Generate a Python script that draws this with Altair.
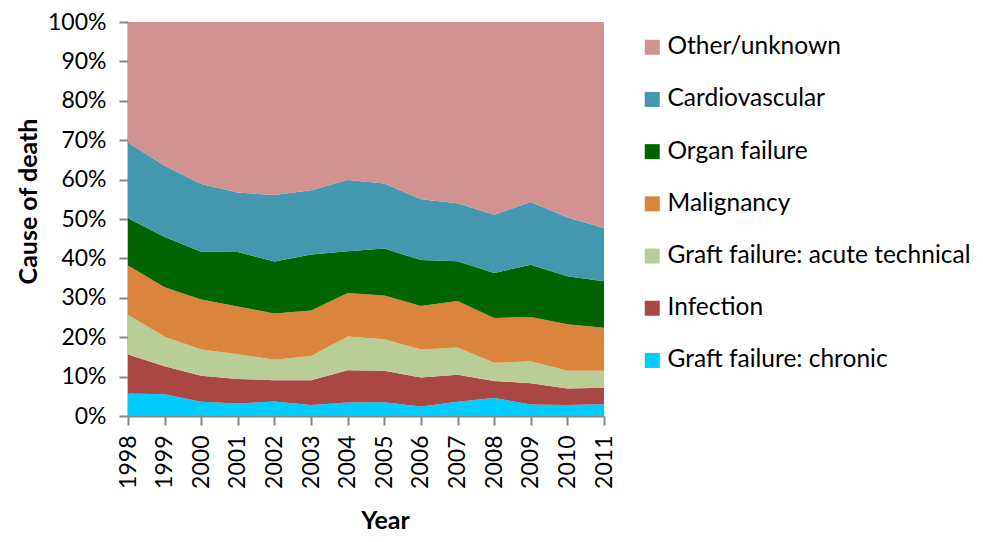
import altair as alt
import pandas as pd

years = list(range(1998, 2012))

categories = [
    "Other/unknown",
    "Cardiovascular",
    "Organ failure",
    "Malignancy",
    "Graft failure: acute technical",
    "Infection",
    "Graft failure: chronic",
]
colors = ["#D29292", "#4398B0", "#006400", "#DB843D", "#B9CD96", "#AA4643", "#00CCFF"]

# percentages per cause per year (1998..2011)
chronic     = [5.7, 5.5, 3.6, 3.2, 3.7, 2.8, 3.4, 3.5, 2.4, 3.6, 4.6, 2.9, 2.8, 3.0]
infection   = [9.9, 7.1, 6.6, 6.2, 5.4, 6.3, 8.2, 8.0, 7.4, 6.9, 4.3, 5.4, 4.2, 4.2]
acute_tech  = [10.1, 7.5, 6.7, 6.3, 5.2, 6.1, 8.6, 8.0, 7.1, 6.9, 4.6, 5.6, 4.5, 4.3]
malignancy  = [12.5, 12.6, 12.7, 12.1, 11.7, 11.6, 11.0, 11.1, 11.0, 11.8, 11.4, 11.2, 11.8, 10.9]
organ       = [12.0, 12.7, 12.1, 13.8, 13.2, 14.2, 10.6, 11.9, 11.7, 10.1, 11.4, 13.3, 12.2, 11.8]
cardio      = [19.2, 18.1, 17.2, 15.1, 16.9, 16.3, 18.1, 16.5, 15.4, 14.7, 14.8, 15.9, 14.9, 13.5]
other       = [30.6, 36.5, 41.1, 43.3, 43.9, 42.7, 40.1, 41.0, 45.0, 46.0, 48.9, 45.7, 49.6, 52.3]

series = {
    "Graft failure: chronic": chronic,
    "Infection": infection,
    "Graft failure: acute technical": acute_tech,
    "Malignancy": malignancy,
    "Organ failure": organ,
    "Cardiovascular": cardio,
    "Other/unknown": other,
}

rows = []
for stack_idx, (name, vals) in enumerate(series.items()):
    for y, v in zip(years, vals):
        rows.append({"Year": y, "Cause": name, "Value": v, "Stack": stack_idx})
df = pd.DataFrame(rows)

FONT = "Lato"

chart = (
    alt.Chart(df)
    .mark_area(opacity=1, interpolate="linear")
    .encode(
        x=alt.X(
            "Year:Q",
            scale=alt.Scale(domain=[1998, 2011], nice=False, zero=False),
            axis=alt.Axis(
                values=years,
                format="d",
                labelAngle=-90,
                title="Year",
                titleX=257,
                titleAlign="center",
                titlePadding=20,
                labelPadding=10,
            ),
        ),
        y=alt.Y(
            "Value:Q",
            stack="normalize",
            scale=alt.Scale(domain=[0, 1], nice=False),
            axis=alt.Axis(
                format=".0%",
                values=[i / 10 for i in range(11)],
                title="Cause of death",
                titleY=179,
                titleAlign="center",
                titlePadding=6,
                labelPadding=13,
            ),
        ),
        color=alt.Color(
            "Cause:N",
            scale=alt.Scale(domain=categories, range=colors),
            legend=alt.Legend(
                title=None,
                orient="none",
                legendX=512,
                legendY=13,
                symbolType="square",
                symbolSize=225,
                symbolStrokeWidth=0,
                labelFontSize=24.5,
                labelFont=FONT,
                labelColor="#000000",
                labelOffset=3,
                rowPadding=27.2,
                labelLimit=400,
            ),
        ),
        order=alt.Order("Stack:Q", sort="ascending"),
    )
    .properties(
        width=476,
        height=394,
        autosize=alt.AutoSizeParams(type="none"),
        padding={"left": 120, "top": 14, "right": 371, "bottom": 118},
    )
    .configure_view(stroke=None)
    .configure_axis(
        grid=False,
        domainColor="#868686",
        domainWidth=2,
        tickColor="#868686",
        tickWidth=2,
        tickSize=9,
        labelFont=FONT,
        labelFontSize=23,
        labelColor="#000000",
        titleFont=FONT,
        titleFontSize=25,
        titleFontWeight="bold",
        titleColor="#000000",
    )
)

chart.save("out.html", embed_options={"renderer": "svg", "actions": False})
